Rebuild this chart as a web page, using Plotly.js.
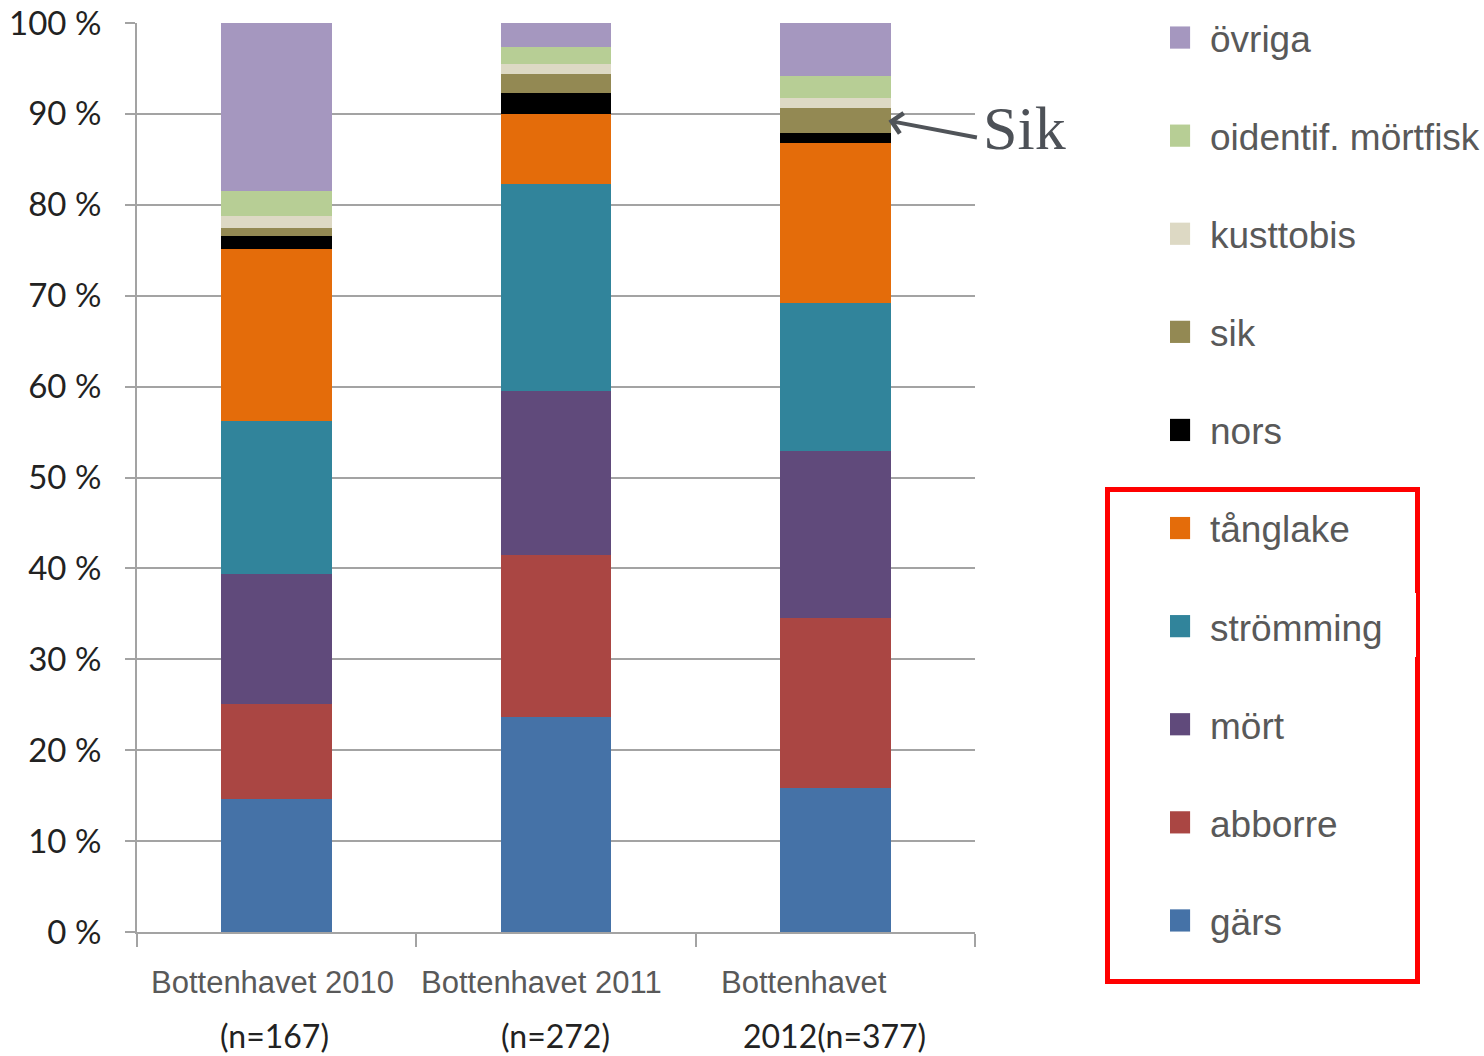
<!DOCTYPE html>
<html>
<head>
<meta charset="utf-8">
<script src="https://cdn.plot.ly/plotly-3.0.1.min.js"></script>
<style>
  html, body { margin: 0; padding: 0; background: #ffffff; }
  #chart { width: 1484px; height: 1056px; }
</style>
</head>
<body>
<div id="chart"></div>
<script>
// Catch composition per area and year (share of individuals, %)
const categories = ['Bottenhavet 2010 (n=167)', 'Bottenhavet 2011 (n=272)', 'Bottenhavet 2012(n=377)'];
const labelTop = ['Bottenhavet 2010', 'Bottenhavet 2011', 'Bottenhavet'];
const labelBottom = ['(n=167)', '(n=272)', '2012(n=377)'];

// species shares, bottom of the stack first
const gars      = [14.6, 23.7, 15.8];
const abborre   = [10.5, 17.8, 18.7];
const mort      = [14.3, 18.0, 18.4];
const stromming = [16.8, 22.8, 16.3];
const tanglake  = [18.9,  7.7, 17.6];
const nors      = [ 1.5,  2.3,  1.1];
const sik       = [ 0.8,  2.1,  2.7];
const kusttobis = [ 1.4,  1.1,  1.1];
const oidentif  = [ 2.7,  1.9,  2.5];
const ovriga    = [18.5,  2.6,  5.8];

const yTicks = [0, 10, 20, 30, 40, 50, 60, 70, 80, 90, 100];

const series = [
  { name: 'gärs',               values: gars,      color: '#4572A7' },
  { name: 'abborre',            values: abborre,   color: '#AA4643' },
  { name: 'mört',               values: mort,      color: '#604A7B' },
  { name: 'strömming',          values: stromming, color: '#31849B' },
  { name: 'tånglake',           values: tanglake,  color: '#E46C0A' },
  { name: 'nors',               values: nors,      color: '#000000' },
  { name: 'sik',                values: sik,       color: '#938953' },
  { name: 'kusttobis',          values: kusttobis, color: '#DDD9C4' },
  { name: 'oidentif. mörtfisk', values: oidentif,  color: '#B7CE95' },
  { name: 'övriga',             values: ovriga,    color: '#A597BF' }
];

// top of the stack is listed first in the legend
const traces = series.map((s, i) => ({
  type: 'bar',
  name: s.name,
  legendgroup: s.name,
  legendrank: series.length - i,
  x: categories,
  y: s.values,
  marker: { color: s.color, line: { width: 0 } },
  hoverinfo: 'x+y+name'
}));

// pointer to the "sik" segment of the last bar, placed from the stacked data
const lastIdx = categories.length - 1;
const belowSik = gars[lastIdx] + abborre[lastIdx] + mort[lastIdx] + stromming[lastIdx] +
                 tanglake[lastIdx] + nors[lastIdx];
const sikMid = belowSik + sik[lastIdx] / 2;

const grey = '#A3A3A3';
const annotations = [];
categories.forEach((c, i) => {
  const shiftTop = [-4, -15, -31][i];
  const shiftBottom = [-2, -1, -1][i];
  annotations.push({
    xref: 'x', yref: 'paper', x: c, y: -0.056, yanchor: 'middle', xanchor: 'center',
    xshift: shiftTop, showarrow: false, text: labelTop[i],
    font: { family: 'Liberation Sans, Arial, sans-serif', size: 31, color: '#595959' }
  });
  annotations.push({
    xref: 'x', yref: 'paper', x: c, y: -0.1135, yanchor: 'middle', xanchor: 'center',
    xshift: shiftBottom, showarrow: false, text: labelBottom[i],
    font: { family: 'Lato, sans-serif', size: 32, color: '#222222' }
  });
});
annotations.push({
  xref: 'x', yref: 'y', x: lastIdx + 0.19, y: sikMid,
  ax: 90, ay: 17, axref: 'pixel', ayref: 'pixel',
  showarrow: true, arrowhead: 4, arrowsize: 1, arrowwidth: 4, arrowcolor: '#505459',
  text: ''
});
annotations.push({
  xref: 'paper', yref: 'paper', x: 1.0585, y: 0.8845, xanchor: 'center', yanchor: 'middle',
  showarrow: false, text: 'Sik',
  font: { family: 'Liberation Serif, Times New Roman, serif', size: 62, color: '#4D5157' }
});

// red frame around the lower legend block
const px = v => (v - 137) / 838;
const py = v => (932 - v) / 909;
const shapes = [
  { type: 'rect', xref: 'paper', yref: 'paper', x0: px(1107.5), x1: px(1417.5), y0: py(981.5), y1: py(489.5),
    line: { color: '#FF0000', width: 5 }, fillcolor: 'rgba(0,0,0,0)' },
  { type: 'rect', xref: 'paper', yref: 'paper', x0: px(1412), x1: px(1416), y0: py(657), y1: py(593),
    line: { width: 0 }, fillcolor: '#FFFFFF' }
];

const layout = {
  width: 1484,
  height: 1056,
  margin: { l: 137, r: 509, t: 23, b: 124, pad: 0, autoexpand: false },
  paper_bgcolor: '#ffffff',
  plot_bgcolor: '#ffffff',
  barmode: 'stack',
  bargap: 0.604,
  showlegend: true,
  legend: {
    x: px(1170), y: py(7), xanchor: 'left', yanchor: 'top',
    traceorder: 'grouped',
    tracegroupgap: 47,
    maxheight: 1056,
    bgcolor: 'rgba(0,0,0,0)',
    font: { family: 'Liberation Sans, Arial, sans-serif', size: 37, color: '#595959' }
  },
  xaxis: {
    type: 'category',
    range: [-0.5, categories.length - 0.5],
    showticklabels: false,
    tickson: 'boundaries',
    ticks: 'outside', ticklen: 13, tickwidth: 2, tickcolor: grey,
    showline: true, linecolor: grey, linewidth: 2,
    showgrid: false, zeroline: false, fixedrange: true
  },
  yaxis: {
    range: [0, 100],
    tickvals: yTicks,
    ticktext: yTicks.map(v => v + ' %'),
    ticks: 'outside', ticklen: 10, tickwidth: 2, tickcolor: grey,
    ticklabelstandoff: 17,
    tickfont: { family: 'Lato, sans-serif', size: 33, color: '#222222' },
    showline: true, linecolor: grey, linewidth: 2,
    showgrid: true, gridcolor: grey, gridwidth: 2,
    zeroline: false, fixedrange: true
  },
  annotations: annotations,
  shapes: shapes
};

Plotly.newPlot('chart', traces, layout, { displayModeBar: false, staticPlot: true }).then(gd => {
  // larger legend swatches, set a little further left of the labels
  gd.querySelectorAll('.legendpoints path').forEach(p => {
    p.setAttribute('transform', 'translate(9,0) scale(1.85)');
  });
});
</script>
</body>
</html>
